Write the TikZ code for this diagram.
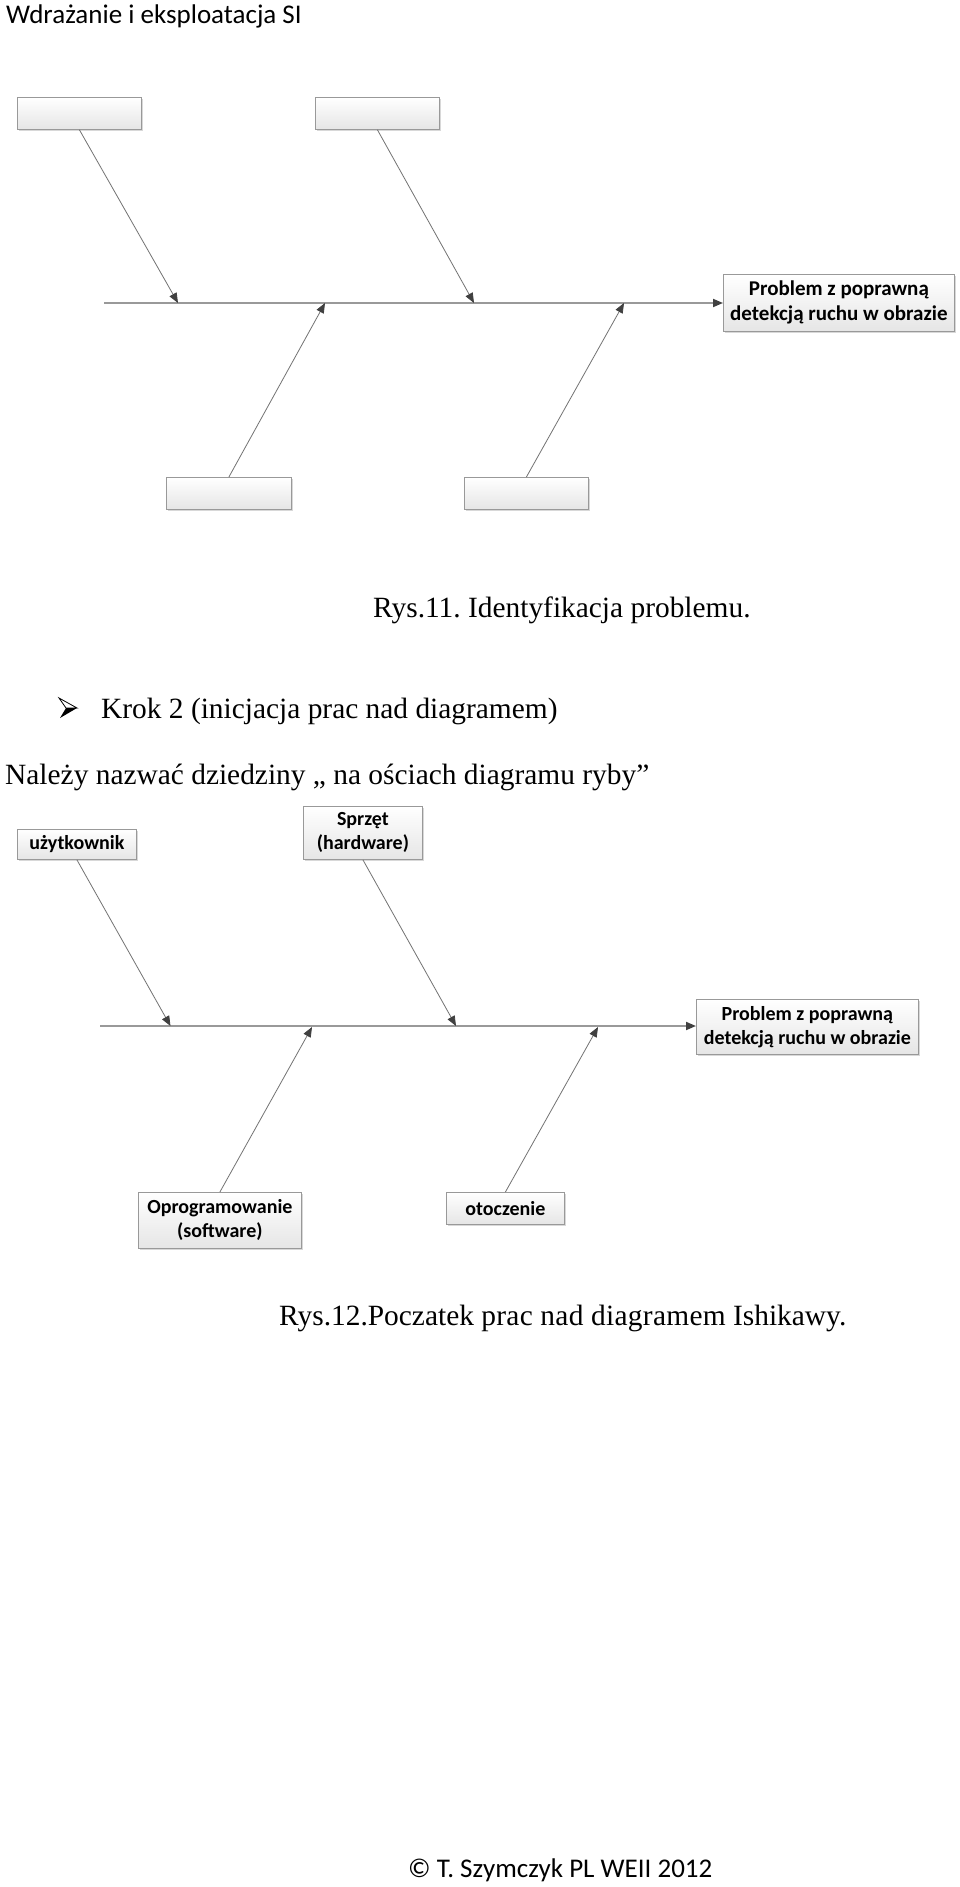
\documentclass[tikz,border=0pt]{standalone}
\usepackage{fontspec}
\setmainfont{Liberation Serif}
\newfontfamily\calib{Carlito}
\usetikzlibrary{arrows.meta,shadows}
\tikzset{
  fbox/.style={draw=black!40, line width=0.8pt, top color=white, bottom color=black!10,
    drop shadow={shadow xshift=1.5pt, shadow yshift=-1.5pt, fill=black!25, opacity=0.6},
    anchor=north west, inner sep=1pt, align=center,
    font=\calib\bfseries\fontsize{20}{24}\selectfont},
  spine/.style={draw=black!40, line width=1.8pt, -{Triangle[length=10pt,width=8pt,color=black!75]}},
  bone/.style={draw=black!55, line width=0.8pt, -{Triangle[length=10pt,width=8pt,color=black!75]}},
  serift/.style={anchor=base west, inner sep=0pt, font=\fontsize{29.4}{34}\selectfont},
  sanst/.style={anchor=base west, inner sep=0pt, font=\calib\fontsize{27}{32}\selectfont}
}
\frenchspacing
\begin{document}
\begin{tikzpicture}[x=1pt,y=-1pt]
\useasboundingbox[fill=white] (0,0) rectangle (960,1887);
% header
\node[sanst] (title) at (6,23.5) {Wdrażanie i eksploatacja SI};
% ---------- diagram 1 ----------
\node[fbox, minimum width=124pt, minimum height=32pt] (a1) at (17,97) {};
\node[fbox, minimum width=124pt, minimum height=32pt] (a2) at (315,97) {};
\node[fbox, minimum width=125pt, minimum height=32pt] (b1) at (166,477) {};
\node[fbox, minimum width=124pt, minimum height=32pt] (b2) at (464,477) {};
\node[fbox, minimum width=231pt, minimum height=57pt, font=\calib\bfseries\fontsize{21}{25}\selectfont] (p1) at (723,274) {Problem z poprawną\\detekcją ruchu w obrazie};
\coordinate (s1) at (104,303);
\coordinate (ta1) at (178,303);
\coordinate (ta2) at (474,303);
\coordinate (tb1) at (325,303);
\coordinate (tb2) at (624,303);
\draw[spine] (s1) -- (p1.west |- s1);
\draw[bone] (a1.south) -- (ta1);
\draw[bone] (a2.south) -- (ta2);
\draw[bone] (b1.north) -- (tb1);
\draw[bone] (b2.north) -- (tb2);
% texts
\node[serift] (cap1) at (373,617) {Rys.11. Identyfikacja problemu.};
% bullet (3D arrowhead)
\draw[line width=0.8pt, fill=white, line join=miter] (59,698) -- (77,708) -- (66,708) -- cycle;
\fill[black] (66,708) -- (77,708) -- (60,718) -- cycle;
\node[serift] (krok) at (101,718) {Krok 2 (inicjacja prac nad diagramem)};
\node[serift] (nal) at (5,784) {Należy nazwać dziedziny „ na ościach diagramu ryby”};
% ---------- diagram 2 ----------
\node[fbox, minimum width=119pt, minimum height=30pt] (u) at (17,829) {użytkownik};
\node[fbox, minimum width=119pt, minimum height=53pt] (s) at (303,806) {Sprzęt\\(hardware)};
\node[fbox, minimum width=163pt, minimum height=56pt] (o) at (138,1192) {Oprogramowanie\\(software)};
\node[fbox, minimum width=118pt, minimum height=32pt] (t) at (446,1192) {otoczenie};
\node[fbox, minimum width=222pt, minimum height=55pt] (p2) at (696,999) {Problem z poprawną\\detekcją ruchu w obrazie};
\coordinate (s2) at (100,1026);
\coordinate (tu) at (170.5,1026);
\coordinate (ts) at (456,1026);
\coordinate (to) at (312,1027);
\coordinate (tt) at (598,1027);
\draw[spine] (s2) -- (p2.west |- s2);
\draw[bone] (u.south) -- (tu);
\draw[bone] (s.south) -- (ts);
\draw[bone] (o.north) -- (to);
\draw[bone] (t.north) -- (tt);
\node[serift] (cap2) at (279,1325) {Rys.12.Poczatek {\addfontfeature{LetterSpace=1}prac nad diagramem} Ishikawy.};
% footer
\node[anchor=base west, inner sep=0pt, font=\calib\fontsize{27}{32}\selectfont] (foot) at (408,1877) {© T. Szymczyk PL WEII 2012};
\end{tikzpicture}
\end{document}
